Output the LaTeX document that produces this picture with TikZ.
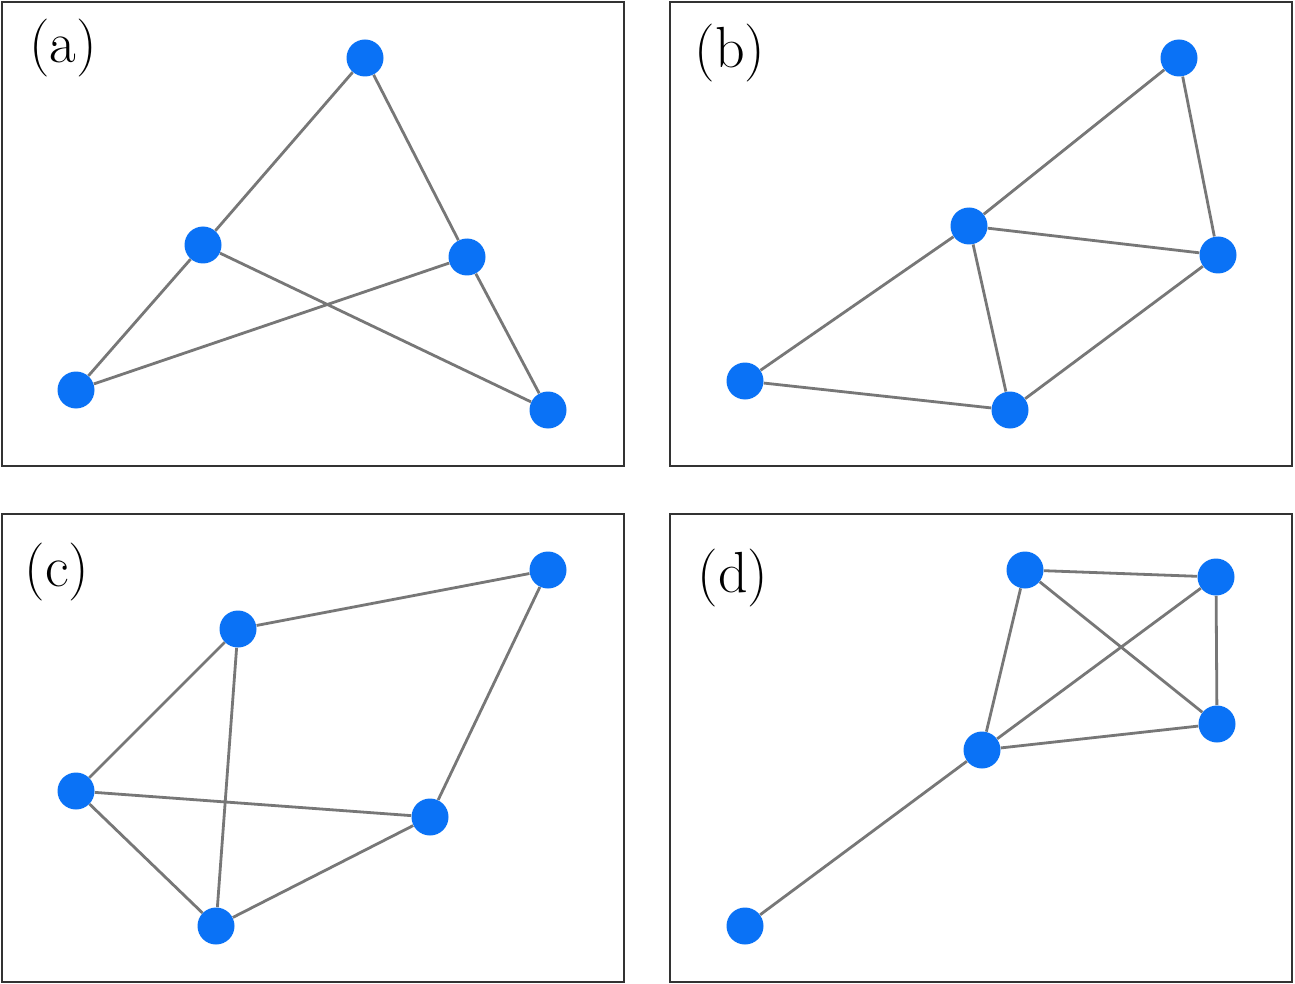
\documentclass[tikz,border=0pt]{standalone}
\begin{document}
\begin{tikzpicture}[x=0.5pt,y=-0.5pt,
  vtx/.style={circle,fill=nodeblue,draw=none,minimum size=18.5pt,inner sep=0pt},
  edge/.style={draw=edgegray,line width=1.4pt},
  frame/.style={draw=framegray,line width=1pt},
  lbl/.style={font=\fontsize{29}{32}\selectfont,inner sep=0pt,anchor=center}]
\definecolor{nodeblue}{HTML}{0A72F6}
\definecolor{edgegray}{HTML}{777777}
\definecolor{framegray}{HTML}{333333}
\useasboundingbox (0,0) rectangle (1295,984);
\fill[white] (0,0) rectangle (1295,984);
% frames
\draw[frame] (2,2) rectangle (624,466);
\draw[frame] (670,2) rectangle (1292,466);
\draw[frame] (2,514) rectangle (624,982);
\draw[frame] (670,514) rectangle (1292,982);
% labels
\node[lbl] (la) at (63,48) {(a)};
\node[lbl] (lb) at (730,53) {(b)};
\node[lbl] (lc) at (57,572) {(c)};
\node[lbl] (ld) at (733,578) {(d)};
% (a)
\node[vtx] (a1) at (365,58) {};
\node[vtx] (a2) at (203,245) {};
\node[vtx] (a3) at (467,257) {};
\node[vtx] (a4) at (76,390) {};
\node[vtx] (a5) at (548,410) {};
% (b)
\node[vtx] (b1) at (1179,58) {};
\node[vtx] (b2) at (969,226) {};
\node[vtx] (b3) at (1218,255) {};
\node[vtx] (b4) at (745,381) {};
\node[vtx] (b5) at (1010,410) {};
% (c)
\node[vtx] (c1) at (548,570) {};
\node[vtx] (c2) at (238,629) {};
\node[vtx] (c3) at (76,791) {};
\node[vtx] (c4) at (430,817) {};
\node[vtx] (c5) at (216,926) {};
% (d)
\node[vtx] (d1) at (1025,570) {};
\node[vtx] (d2) at (1216,577) {};
\node[vtx] (d3) at (1217,724) {};
\node[vtx] (d4) at (982,750) {};
\node[vtx] (d5) at (745,926) {};
% edges
\draw[edge] (a1) -- (a2) (a1) -- (a3) (a2) -- (a4) (a2) -- (a5) (a3) -- (a4) (a3) -- (a5);
\draw[edge] (b1) -- (b2) (b1) -- (b3) (b2) -- (b3) (b2) -- (b4) (b2) -- (b5) (b4) -- (b5) (b3) -- (b5);
\draw[edge] (c1) -- (c2) (c1) -- (c4) (c2) -- (c3) (c2) -- (c5) (c3) -- (c4) (c3) -- (c5) (c5) -- (c4);
\draw[edge] (d1) -- (d2) (d2) -- (d3) (d1) -- (d3) (d1) -- (d4) (d2) -- (d4) (d4) -- (d3) (d4) -- (d5);
\end{tikzpicture}
\end{document}
